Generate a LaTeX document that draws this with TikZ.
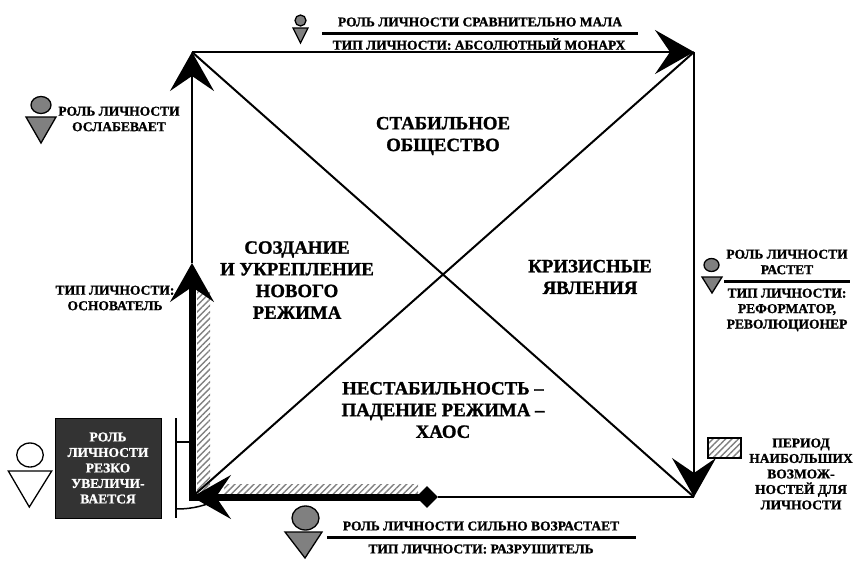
\documentclass[tikz,border=0pt]{standalone}
\usepackage{fontspec}
\setmainfont{Liberation Serif}[BoldFeatures={FakeBold=1.2}]
\usetikzlibrary{arrows.meta,patterns.meta,shapes.geometric}
\tikzset{
  edge/.style={line width=2pt},
  thickedge/.style={line width=7pt, line join=miter},
  bigarrow/.style={-{Stealth[length=39pt,width=44pt,inset=15pt]}},
  lbl/.style={font=\fontsize{13.5}{15.5}\selectfont\bfseries, align=center, inner sep=0pt},
  biglbl/.style={font=\fontsize{18.8}{21.7}\selectfont\bfseries, align=center, inner sep=0pt},
  hatch/.style={pattern={Lines[angle=45,distance=4.5pt,line width=1.4pt]}, pattern color=black!50},
  person/.style={draw, line width=1.3pt, fill=black!50},
  whiteperson/.style={draw, line width=1.3pt, fill=white},
  sepline/.style={line width=3pt},
}
\begin{document}
\begin{tikzpicture}[x=1pt,y=-1pt]
\useasboundingbox (0,0) rectangle (853,560);

% corners
\coordinate (TL) at (192,52);
\coordinate (TR) at (694,52);
\coordinate (BR) at (694,497);
\coordinate (BL) at (192,497);
\coordinate (ML) at (192,263);

% hatched strips
\fill[hatch] (197,290) rectangle (210,492);
\fill[hatch] (224,484) rectangle (418,493);

% diagonals
\draw[edge] (TL) -- (BR);
\draw[edge] (TR) -- (BL);

% diamond
\node[diamond, fill=black, minimum width=22pt, minimum height=22pt, inner sep=0pt] (dmd) at (427,497) {};

% thick segment
\draw[thickedge, shorten <=22pt] (ML) -- (BL) -- (dmd.center);

% square sides with arrows
\draw[edge,bigarrow] (TL) -- (TR);
\draw[edge,bigarrow] (TR) -- (BR);
\draw[edge] (BR) -- (dmd);
\draw[edge,bigarrow] (dmd) -- (BL);
\draw[edge,bigarrow] (BL) -- (ML);
\draw[edge,bigarrow] (ML) -- (TL);

% centre texts
\node[biglbl] (stab) at (443,136) {СТАБИЛЬНОЕ\\ОБЩЕСТВО};
\node[biglbl] (sozd) at (297,280) {СОЗДАНИЕ\\И УКРЕПЛЕНИЕ\\НОВОГО\\РЕЖИМА};
\node[biglbl] (kriz) at (590,277) {КРИЗИСНЫЕ\\ЯВЛЕНИЯ};
\node[biglbl] (nest) at (443,410) {НЕСТАБИЛЬНОСТЬ –\\ПАДЕНИЕ РЕЖИМА –\\ХАОС};

% top label
\draw[person] (300.5,20.5) circle (5.5);
\draw[person] (293,28) -- (308,28) -- (300.5,43) -- cycle;
\node[lbl] (top1) at (480,22) {РОЛЬ ЛИЧНОСТИ СРАВНИТЕЛЬНО МАЛА};
\draw[sepline] (322,33) -- (638,33);
\node[lbl] (top2) at (479,44) {ТИП ЛИЧНОСТИ: АБСОЛЮТНЫЙ МОНАРХ};

% top-left label
\draw[person] (41,105) ellipse (10 and 8.5);
\draw[person] (26,117) -- (56,117) -- (41,143) -- cycle;
\node[lbl] (weak) at (119,119) {РОЛЬ ЛИЧНОСТИ\\ОСЛАБЕВАЕТ};

% left middle label
\node[lbl] (found) at (115,298) {ТИП ЛИЧНОСТИ:\\ОСНОВАТЕЛЬ};

% right label
\draw[person] (711.5,265) ellipse (7.5 and 6.5);
\draw[person] (702,277) -- (722,277) -- (712,293) -- cycle;
\node[lbl] (grow) at (787,262) {РОЛЬ ЛИЧНОСТИ\\РАСТЕТ};
\draw[sepline] (724,281.5) -- (850,281.5);
\node[lbl] (reform) at (787,310) {ТИП ЛИЧНОСТИ:\\РЕФОРМАТОР,\\РЕВОЛЮЦИОНЕР};

% bottom label
\draw[person] (305.5,518) ellipse (13.5 and 12);
\draw[person] (285,532) -- (322,532) -- (305,558) -- cycle;
\node[lbl] (bot1) at (481,526) {РОЛЬ ЛИЧНОСТИ СИЛЬНО ВОЗРАСТАЕТ};
\draw[sepline] (327,537) -- (636,537);
\node[lbl] (bot2) at (481,549) {ТИП ЛИЧНОСТИ: РАЗРУШИТЕЛЬ};

% legend
\node[draw, line width=1.5pt, hatch, minimum width=33pt, minimum height=20pt, inner sep=0pt] (leg) at (724.5,448) {};
\node[lbl] (legtxt) at (801,474) {ПЕРИОД\\НАИБОЛЬШИХ\\ВОЗМОЖ-\\НОСТЕЙ ДЛЯ\\ЛИЧНОСТИ};

% black box and white person
\draw[whiteperson] (30,455) ellipse (13.3 and 12);
\draw[whiteperson] (8.3,471) -- (51.7,471) -- (29.3,507) -- cycle;
\node[lbl, draw, line width=1pt, fill=black!80, text=white, minimum width=106pt, minimum height=100pt] (box) at (108,468) {РОЛЬ\\ЛИЧНОСТИ\\РЕЗКО\\УВЕЛИЧИ-\\ВАЕТСЯ};

% bracket
\coordinate (brT) at (176,418);
\coordinate (brB) at (176,518);
\coordinate (brM) at (176,442);
\coordinate (brC) at (176,509);
\draw[line width=1.5pt] (brT) -- (brB);
\draw[line width=1.5pt] (brM) -- (ML |- brM);
\draw[line width=1.5pt] (brC) .. controls (195,509) and (205,505) .. (218,500);
\end{tikzpicture}
\end{document}
